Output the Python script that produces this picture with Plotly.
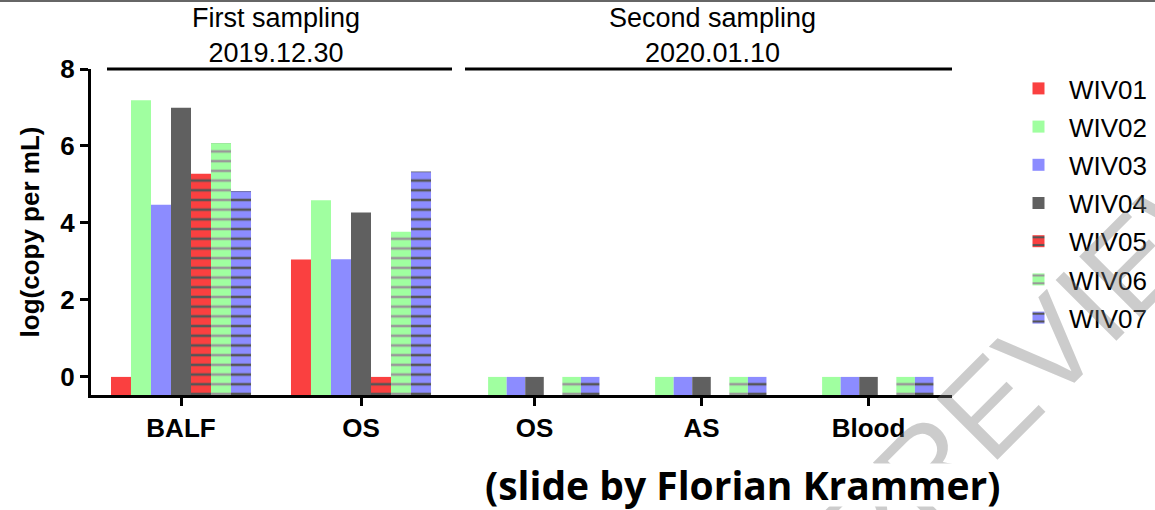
import plotly.graph_objects as go

# ---------------- data ----------------
first_cats = ["BALF", "OS"]
second_cats = ["OS", "AS", "Blood"]
series = ["WIV01", "WIV02", "WIV03", "WIV04", "WIV05", "WIV06", "WIV07"]

first_values = {
    "WIV01": [0.0, 3.05],
    "WIV02": [7.19, 4.59],
    "WIV03": [4.47, 3.06],
    "WIV04": [6.99, 4.27],
    "WIV05": [5.28, 0.0],
    "WIV06": [6.08, 3.77],
    "WIV07": [4.83, 5.34],
}
second_values = {
    "WIV01": [None, None, None],
    "WIV02": [0.0, 0.0, 0.0],
    "WIV03": [0.0, 0.0, 0.0],
    "WIV04": [0.0, 0.0, 0.0],
    "WIV05": [None, None, None],
    "WIV06": [0.0, 0.0, 0.0],
    "WIV07": [0.0, 0.0, 0.0],
}
colors = ["#FA4040", "#A0FFA0", "#8C8CFF", "#606060", "#FA4040", "#A0FFA0", "#8C8CFF"]
stripe_colors = [None, None, None, None, "#555555", "#999999", "#555555"]
y_ticks = [0, 2, 4, 6, 8]
y_title = "log(copy per mL)"
header_first = "First sampling<br>2019.12.30"
header_second = "Second sampling<br>2020.01.10"
credit = "(slide by Florian Krammer)"

YMIN, YMAX = -0.47, 8.0
FONT = "Liberation Sans, Arial, sans-serif"

# ---------------- layout geometry (pixels) ----------------
WIDTH, HEIGHT = 1155, 510
L, R, T, B = 91, 952, 69, 395
PW, PH = R - L, B - T
SPLIT = 451


def px_x(px):
    return (px - L) / PW


def px_y(py):
    return (B - py) / PH


fig = go.Figure()


def shifted(vals):
    return [None if v is None else v - YMIN for v in vals]


for i, name in enumerate(series):
    marker = dict(color=colors[i], line=dict(width=0))
    if stripe_colors[i]:
        marker["pattern"] = dict(shape="-", fgcolor=stripe_colors[i],
                                 bgcolor=colors[i], size=9.7, solidity=0.26,
                                 fillmode="replace")
    fig.add_trace(go.Bar(
        x=first_cats, y=shifted(first_values[name]), base=YMIN,
        name=name, legendgroup=name, marker=marker,
        xaxis="x", yaxis="y", showlegend=True,
    ))
    fig.add_trace(go.Bar(
        x=second_cats, y=shifted(second_values[name]), base=YMIN,
        name=name, legendgroup=name, marker=marker,
        xaxis="x2", yaxis="y", showlegend=False,
    ))

axis_common = dict(
    showline=True, linecolor="black", linewidth=3,
    ticks="outside", ticklen=8, tickwidth=3, tickcolor="black",
    showgrid=False, zeroline=False,
    tickfont=dict(family=FONT, size=26, color="black", weight="bold"),
    type="category", fixedrange=True,
)

fig.update_layout(
    width=WIDTH, height=HEIGHT,
    margin=dict(l=L, r=WIDTH - R, t=T, b=HEIGHT - B, pad=0, autoexpand=False),
    paper_bgcolor="white", plot_bgcolor="white",
    barmode="group", bargap=0.222, bargroupgap=0,
    xaxis=dict(domain=[0, px_x(SPLIT)], anchor="y", **axis_common),
    xaxis2=dict(domain=[px_x(SPLIT), 1], anchor="y", **axis_common),
    yaxis=dict(
        range=[YMIN, YMAX], tickvals=y_ticks,
        showline=True, linecolor="black", linewidth=3,
        ticks="outside", ticklen=8, tickwidth=3, tickcolor="black",
        showgrid=False, zeroline=False,
        tickfont=dict(family=FONT, size=26, color="black", weight="bold"),
        title=dict(text=y_title, standoff=14,
                   font=dict(family=FONT, size=26, color="black", weight="bold")),
    ),
    legend=dict(
        x=px_x(1008), y=px_y(65), xanchor="left", yanchor="top",
        font=dict(family=FONT, size=26, color="black"),
        bgcolor="rgba(0,0,0,0)", itemwidth=51, tracegroupgap=1.4,
        maxheight=420,
    ),
    font=dict(family=FONT, color="black"),
    showlegend=True,
)

# header lines and texts
fig.add_shape(type="line", xref="paper", yref="paper",
              x0=px_x(107), x1=px_x(452), y0=px_y(69), y1=px_y(69),
              line=dict(color="black", width=3))
fig.add_shape(type="line", xref="paper", yref="paper",
              x0=px_x(465), x1=px_x(952), y0=px_y(69), y1=px_y(69),
              line=dict(color="black", width=3))
# top border of the slide crop
fig.add_shape(type="line", xref="paper", yref="paper",
              x0=px_x(0), x1=px_x(WIDTH), y0=px_y(1), y1=px_y(1),
              line=dict(color="#666666", width=2))

fig.add_annotation(text=header_first, xref="paper", yref="paper",
                   x=px_x(276), y=px_y(36), showarrow=False,
                   xanchor="center", yanchor="middle",
                   font=dict(family=FONT, size=27, color="black"))
fig.add_annotation(text=header_second, xref="paper", yref="paper",
                   x=px_x(712), y=px_y(36), showarrow=False,
                   xanchor="center", yanchor="middle",
                   font=dict(family=FONT, size=27, color="black"))

# watermark
fig.add_annotation(text="PREVIEW", xref="paper", yref="paper",
                   x=px_x(1040), y=px_y(355), showarrow=False,
                   xanchor="center", yanchor="middle", textangle=-45,
                   font=dict(family=FONT, size=125, color="rgba(120,120,120,0.38)"))

# white box under the credit line (covers the watermark)
fig.add_annotation(text="\u00a0" * 80, xref="paper", yref="paper",
                   x=px_x(820), y=px_y(485), showarrow=False,
                   xanchor="center", yanchor="middle",
                   bgcolor="white", borderpad=0,
                   font=dict(family=FONT, size=38, color="white"))
fig.add_annotation(text=credit, xref="paper", yref="paper",
                   x=px_x(742), y=px_y(484), showarrow=False,
                   xanchor="center", yanchor="middle",
                   font=dict(family="Open Sans, sans-serif", size=39,
                             color="black", weight="bold"))

fig.write_html("out.html")
